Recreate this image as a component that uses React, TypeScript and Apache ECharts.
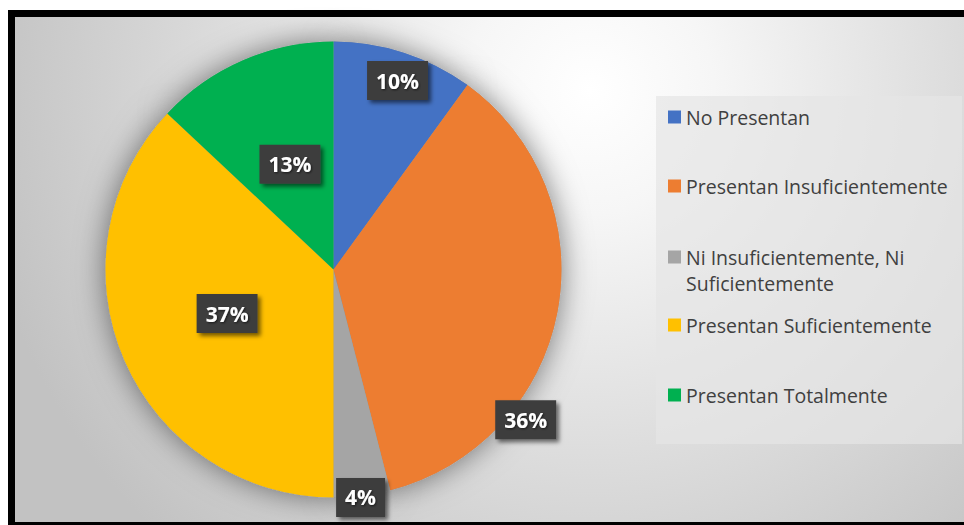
import React, { useEffect, useRef } from 'react';
import * as echarts from 'echarts';

const categories = [
  'No Presentan',
  'Presentan Insuficientemente',
  'Ni Insuficientemente, Ni Suficientemente',
  'Presentan Suficientemente',
  'Presentan Totalmente',
];
const values = [10, 36, 4, 37, 13];
const colors = ['#4472C4', '#ED7D31', '#A5A5A5', '#FFC000', '#00B050'];
// label placement inside each slice: fraction of the slice's angle, fraction of the radius
const labelAngleFrac = [0.52, 0.71, 0.53, 0.507, 0.52];
const labelRadiusFrac = [0.875, 1.07, 1.007, 0.505, 0.5];
const legendTops = [104, 173, 218, 312, 382];

export default function App() {
  const ref = useRef<HTMLDivElement>(null);
  useEffect(() => {
    document.body.style.margin = '0';
    const chart = echarts.init(ref.current!, null, { renderer: 'svg' });
    const cx = 333.5;
    const cy = 269.5;
    const R = 228;
    const total = values.reduce((a, b) => a + b, 0);
    const starts: number[] = [];
    let acc = 0;
    values.forEach((v) => {
      starts.push(acc);
      acc += v;
    });
    const labelPos = (i: number) => {
      const deg = ((starts[i] + values[i] * labelAngleFrac[i]) / total) * 360;
      const rad = (deg * Math.PI) / 180;
      const d = R * labelRadiusFrac[i];
      return { x: cx + d * Math.sin(rad), y: cy - d * Math.cos(rad) };
    };

    chart.setOption({
      animation: false,
      graphic: [
        {
          type: 'rect',
          z: -10,
          silent: true,
          shape: { x: 11.5, y: 13.5, width: 980, height: 512 },
          style: {
            fill: new echarts.graphic.RadialGradient(590, 90, 620, [
              { offset: 0, color: '#ffffff' },
              { offset: 0.2, color: '#f6f6f6' },
              { offset: 1, color: '#c2c2c2' },
            ], true),
            stroke: '#000000',
            lineWidth: 7,
          },
        },
        {
          type: 'rect',
          z: -5,
          silent: true,
          shape: { x: 656, y: 96, width: 306, height: 348 },
          style: { fill: 'rgba(230,230,230,0.7)' },
        },
      ],
      legend: categories.map((name, i) => ({
        data: [name],
        left: 668,
        top: legendTops[i],
        orient: 'vertical',
        itemWidth: 13,
        itemHeight: 13,
        itemGap: 0,
        icon: 'rect',
        padding: 0,
        selectedMode: false,
        formatter: (n: string) =>
          n.indexOf(', Ni ') >= 0 ? '\n' + n.replace(', Ni ', ', Ni\n') : n,
        textStyle: {
          fontFamily: 'Open Sans',
          fontSize: 19.5,
          color: '#404040',
          lineHeight: 26,
        },
      })),
      series: [
        {
          type: 'pie',
          z: 3,
          center: [cx, cy],
          radius: R,
          startAngle: 90,
          clockwise: true,
          avoidLabelOverlap: false,
          minShowLabelAngle: 0,
          emphasis: { disabled: true },
          data: categories.map((name, i) => ({
            name,
            value: values[i],
            itemStyle: { color: colors[i] },
          })),
          label: {
            show: true,
            position: 'inside',
            formatter: (p: any) => Math.round(p.percent) + '%',
            fontFamily: 'Open Sans',
            fontWeight: 'bold',
            fontSize: 21,
            lineHeight: 25,
            color: '#ffffff',
            backgroundColor: '#3d3d3d',
            padding: [7, 9, 7, 9],
            shadowColor: 'rgba(0,0,0,0.55)',
            shadowBlur: 4,
            shadowOffsetX: 3,
            shadowOffsetY: 3,
            textShadowColor: 'rgba(0,0,0,0.6)',
            textShadowBlur: 2,
            textShadowOffsetX: 1,
            textShadowOffsetY: 1,
          },
          labelLine: { show: false },
          labelLayout: (p: any) => ({
            ...labelPos(p.dataIndex),
            align: 'center',
            verticalAlign: 'middle',
          }),
        },
        {
          type: 'pie',
          z: 2,
          silent: true,
          center: [cx, cy],
          radius: R,
          startAngle: 90,
          data: values.map((v) => ({ value: v })),
          itemStyle: {
            color: '#9a9a9a',
            shadowBlur: 30,
            shadowColor: 'rgba(0,0,0,0.5)',
          },
          label: { show: false },
          labelLine: { show: false },
          emphasis: { disabled: true },
        },
      ],
    });
    return () => chart.dispose();
  }, []);
  return <div ref={ref} style={{ width: 964, height: 525 }} />;
}
